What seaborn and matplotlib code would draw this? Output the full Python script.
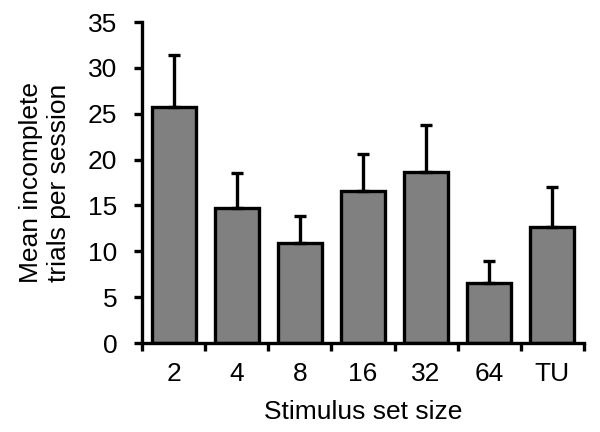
import numpy as np
import pandas as pd
import matplotlib
matplotlib.use('Agg')
import matplotlib.pyplot as plt
import seaborn as sns

set_sizes = ['2', '4', '8', '16', '32', '64', 'TU']
mean_incomplete = [25.7, 14.7, 10.9, 16.6, 18.7, 6.5, 12.7]
sem_upper = [5.7, 3.8, 2.9, 4.0, 5.1, 2.4, 4.3]


def main():
    sns.set_style('ticks')
    plt.rcParams['font.family'] = ['Liberation Sans', 'DejaVu Sans']
    plt.rcParams['text.color'] = 'black'
    plt.rcParams['axes.labelcolor'] = 'black'
    plt.rcParams['xtick.color'] = 'black'
    plt.rcParams['ytick.color'] = 'black'
    plt.rcParams['axes.edgecolor'] = 'black'

    df = pd.DataFrame({'size': set_sizes, 'mean': mean_incomplete, 'err': sem_upper})

    fig = plt.figure(figsize=(6, 4.32), dpi=100)
    ax = fig.add_axes([0.237, 0.206, 0.736, 0.743])

    sns.barplot(data=df, x='size', y='mean', color='#808080', saturation=1,
                width=0.7, edgecolor='black', linewidth=2.4, errorbar=None, ax=ax)

    xs = np.arange(len(df))
    ax.errorbar(xs, df['mean'], yerr=[np.zeros(len(df)), df['err']], fmt='none',
                ecolor='black', elinewidth=2.4, capsize=4, capthick=2.4, zorder=1)

    ax.set_xlim(-0.5, len(df) - 0.5)
    ax.set_ylim(0, 35)
    ax.set_yticks(range(0, 36, 5))
    ax.set_xticks(xs)
    ax.set_xticklabels(set_sizes)
    ax.set_xticks(np.arange(-0.5, len(df), 1), minor=True)
    ax.tick_params(axis='x', which='major', length=0, pad=14, labelsize=19)
    ax.tick_params(axis='x', which='minor', length=6, width=2.4, direction='out')
    ax.tick_params(axis='y', length=6, width=2.4, labelsize=19, pad=12)

    for side in ['left', 'bottom']:
        ax.spines[side].set_linewidth(2.4)
    sns.despine(ax=ax)

    ax.set_xlabel('Stimulus set size', fontsize=19, labelpad=10)
    ax.set_ylabel('Mean incomplete\ntrials per session', fontsize=19, labelpad=12)

    fig.savefig('out.png', dpi=100)


if __name__ == '__main__':
    main()
